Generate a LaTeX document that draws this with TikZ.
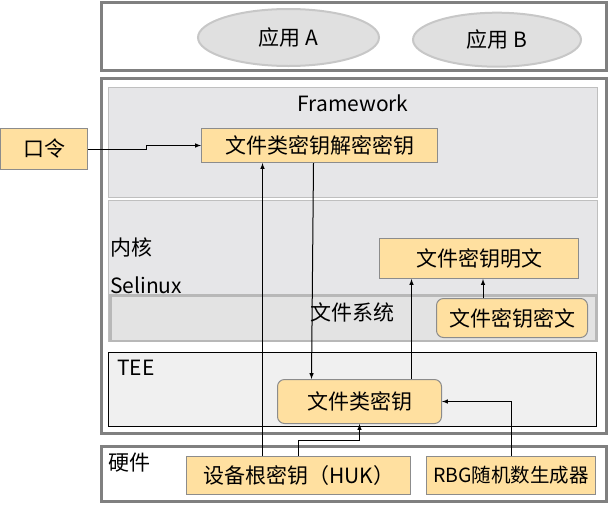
\documentclass[tikz,border=0pt]{standalone}
\usepackage{fontspec}
\setmainfont{Noto Sans CJK SC}
\usetikzlibrary{positioning}
\usetikzlibrary{shapes.geometric}
\definecolor{keyfill}{RGB}{255,224,160}
\definecolor{layerfill}{RGB}{230,230,232}
\definecolor{fsfill}{RGB}{227,227,227}
\definecolor{teefill}{RGB}{240,240,240}
\tikzset{frame/.style={draw=black!50,line width=3pt,anchor=north west,inner sep=0pt}}
\tikzset{layer/.style={draw=black!25,fill=layerfill,line width=1pt,anchor=north west,inner sep=0pt}}
\tikzset{keybox/.style={draw=black!45,fill=keyfill,line width=1pt,inner sep=0pt}}
\tikzset{roundkey/.style={keybox,rounded corners=7pt}}
\tikzset{app/.style={ellipse,draw=black!22,fill=black!12,line width=2pt,inner sep=0pt}}
\tikzset{tag/.style={anchor=west,inner sep=0pt}}
\tikzset{conn/.style={draw,->,line width=1pt}}
\tikzset{>=latex}

\begin{document}
\begin{tikzpicture}[x=1pt,y=-1pt,font=\fontsize{21}{25}\selectfont]
        \useasboundingbox (0,0) rectangle (609,504);
        % layers
        \node[frame,minimum width=505,minimum height=68] (apps) at (100,1) {};
        \node[frame,minimum width=505,minimum height=355] (os) at (100,77) {};
        \node[frame,minimum width=505,minimum height=55] (hw) at (100,445) {};
        \node[layer,minimum width=489,minimum height=110] (fw) at (108,87) {};
        \node[layer,minimum width=489,minimum height=141] (kernel) at (108,200) {};
        \node[layer,draw=black!28,fill=fsfill,line width=2.5pt,minimum width=486,minimum height=45.5] (fs) at (109,294) {};
        \node[layer,draw=black,fill=teefill,minimum width=488,minimum height=74] (tee) at (108,352) {};

        \node[app,minimum width=181,minimum height=57] (appa) at (288.5,37.5) {应用 A};
        \node[app,minimum width=168,minimum height=54] (appb) at (497,39.7) {应用 B};

        \node (fwname) at (353,103) {Framework};
        \node[tag] (kname) at (110,247) {内核};
        \node[tag] (selinux) at (110,285) {Selinux};
        \node (fsname) at (352,312) {文件系统};
        \node[tag] (teename) at (117,368) {TEE};
        \node[tag] (hwname) at (108,463) {硬件};

        % keys
        \node[keybox,minimum width=87,minimum height=41] (pwd) at (44,149) {口令};
        \node[keybox,minimum width=236,minimum height=34] (kek) at (319.5,145.5) {文件类密钥解密密钥};
        \node[keybox,minimum width=199,minimum height=40] (plain) at (479,258.5) {文件密钥明文};
        \node[roundkey,minimum width=151,minimum height=39] (cipher) at (512,318) {文件密钥密文};
        \node[roundkey,minimum width=164,minimum height=44] (classkey) at (359.5,401.5) {文件类密钥};
        \node[keybox,minimum width=224,minimum height=38] (huk) at (298.5,475.5) {设备根密钥（HUK）};
        \node[keybox,minimum width=169,minimum height=38,right=15pt of huk,font=\fontsize{19.5}{23}\selectfont] (rbg) {RBG随机数生成器};

        % connectors
        \path[conn] (pwd.east) -- ++(58,0) |- (kek.west);
        \path[conn] ([xshift=-36pt]huk.north) -- ([xshift=-36pt]huk.north |- kek.south);
        \path[conn] (huk.north) -- ++(0,-16) -| (classkey.south);
        \path[conn] (rbg.north) |- (classkey.east);
        \path[conn] ([xshift=-6pt]kek.south) -- ([xshift=-48pt]classkey.north);
        \path[conn] ([xshift=52pt]classkey.north) -- ([xshift=52pt]classkey.north |- plain.south);
        \path[conn] ([xshift=-29pt]cipher.north) -- ([xshift=-29pt]cipher.north |- plain.south);
\end{tikzpicture}
\end{document}
